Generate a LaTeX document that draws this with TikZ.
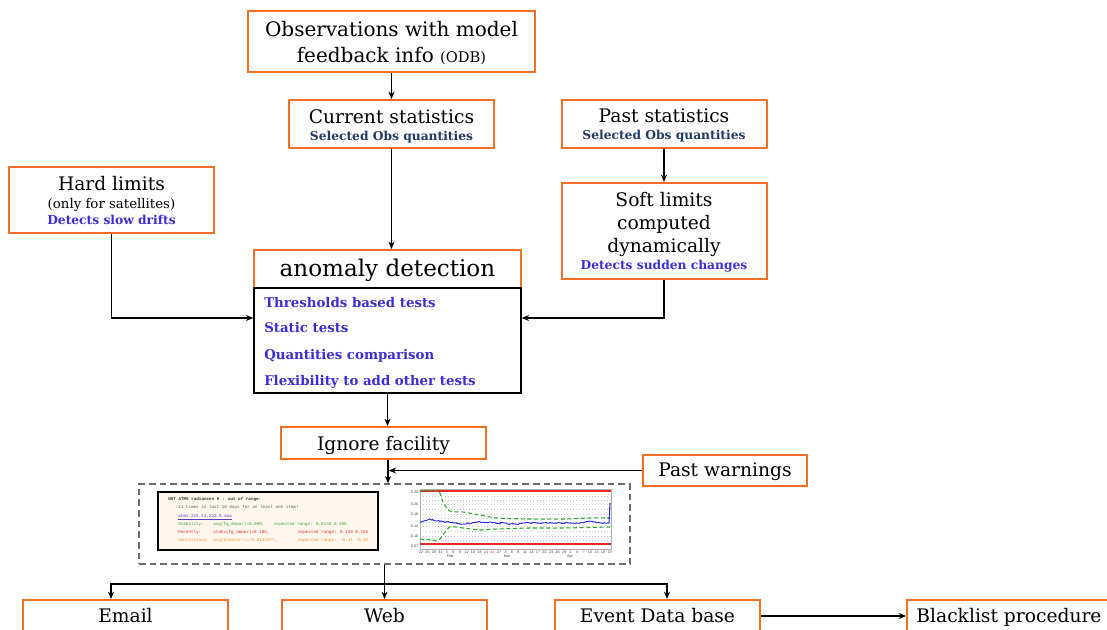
\documentclass[tikz,border=0pt]{standalone}
\usepackage{fontspec}
\setmainfont{DejaVu Serif}
\newfontfamily\monof{Liberation Mono}
\newfontfamily\sansf{Liberation Sans}
\usetikzlibrary{arrows.meta,decorations.pathmorphing}
\definecolor{obord}{RGB}{242,112,32}
\definecolor{vblue}{RGB}{60,45,215}
\definecolor{navy}{RGB}{35,58,105}
\definecolor{dgray}{RGB}{110,110,110}
\definecolor{peach}{RGB}{255,246,238}
\definecolor{gline}{RGB}{40,170,40}
\definecolor{rline}{RGB}{235,40,40}
\definecolor{bline}{RGB}{40,40,230}
\definecolor{oline}{RGB}{245,150,40}
\definecolor{lnk}{RGB}{90,60,200}
\tikzset{
  arr/.style={line width=1.1pt,-{Stealth[length=5.5pt,width=4.5pt]}},
  obox/.style={draw=obord,line width=1.5pt,fill=white,inner sep=0pt,minimum width=153.75pt},
  bbox/.style={draw=black,line width=1.1pt,inner sep=0pt},
  t/.style={inner sep=0pt,anchor=base},
  bigt/.style={font=\fontsize{14}{16}\selectfont},
  subt/.style={font=\fontsize{9.2}{10}\selectfont\bfseries,text=navy},
  bluet/.style={font=\fontsize{9.2}{10}\selectfont\bfseries,text=vblue},
  itemt/.style={inner sep=0pt,anchor=base west,font=\fontsize{10}{11}\selectfont\bfseries,text=vblue},
  tiny/.style={inner sep=0pt,anchor=base west,font=\monof\fontsize{3.2}{3.6}\selectfont},
  tick/.style={inner sep=0pt,font=\sansf\fontsize{2.8}{3}\selectfont,text=black!75},
}
\begin{document}
\begin{tikzpicture}[x=0.75pt,y=-0.75pt]
\useasboundingbox (0,0) rectangle (1107,629);
\clip (0,0) rectangle (1107,629);

% ---------- top boxes ----------
\node[obox,minimum width=215.25pt,minimum height=45.75pt] (obs) at (391.5,41.5) {};
\node[t,font=\fontsize{15}{18}\selectfont] (obs1) at (391.5,36.7) {Observations with model};
\node[t,font=\fontsize{15}{18}\selectfont] (obs2) at (391.5,62.7) {feedback info {\fontsize{11}{13}\selectfont(ODB)}};

\node[obox,minimum height=36pt] (cur) at (391.5,124) {};
\node[t,bigt] (cur1) at (391.5,123.3) {Current statistics};
\node[t,subt] (cur2) at (391.5,140) {Selected Obs quantities};

\node[obox,minimum height=36pt] (past) at (664,124) {};
\node[t,bigt] (past1) at (664,122.3) {Past statistics};
\node[t,subt] (past2) at (664,139.3) {Selected Obs quantities};

\node[obox,minimum height=49.5pt] (hard) at (111.5,200) {};
\node[t,bigt] (hard1) at (111.5,190) {Hard limits};
\node[t,font=\fontsize{10}{11}\selectfont] (hard2) at (111.5,208.3) {(only for satellites)};
\node[t,bluet] (hard3) at (111.5,224) {Detects slow drifts};

\node[obox,minimum height=72pt] (soft) at (664,231) {};
\node[t,bigt] (soft1) at (664,206) {Soft limits};
\node[t,bigt] (soft2) at (664,229.3) {computed};
\node[t,bigt] (soft3) at (664,252.7) {dynamically};
\node[t,bluet] (soft4) at (664,269.3) {Detects sudden changes};

% ---------- anomaly detection ----------
\node[obox,minimum width=200.25pt,minimum height=28.5pt] (head) at (387.5,269) {};
\node[t,font=\fontsize{17.3}{20}\selectfont] (headt) at (387.5,276.7) {anomaly detection};
\node[bbox,minimum width=200.25pt,minimum height=78.75pt] (tests) at (387.5,340.5) {};
\node[itemt] (it1) at (264,307.7) {Thresholds based tests};
\node[itemt] (it2) at (264,332.7) {Static tests};
\node[itemt] (it3) at (264,359) {Quantities comparison};
\node[itemt] (it4) at (264,385) {Flexibility to add other tests};

% ---------- ignore / past warnings ----------
\node[obox,minimum height=24pt] (ign) at (383.5,443) {};
\node[t,bigt] (ignt) at (383.5,450) {Ignore facility};
\node[obox,minimum width=123pt,minimum height=23.25pt] (pw) at (725,470.5) {};
\node[t,bigt] (pwt) at (725,476.7) {Past warnings};

% ---------- dashed box with screenshots ----------
\node[draw=dgray,dash pattern=on 5pt off 3pt,line width=1pt,inner sep=0pt,
      minimum width=368.25pt,minimum height=60pt] (dash) at (384.5,524) {};
\node[draw=black,line width=0.8pt,fill=peach,inner sep=0pt,minimum width=165pt,minimum height=43.5pt] (panel) at (268,521) {};
\node[tiny,text=black!80,font=\monof\bfseries\fontsize{3.2}{3.6}\selectfont] at (168,500) {NOT ATMS radiances 9 : out of range:};
\node[tiny,text=black!65] at (178,508) {11 times in last 10 days for at least one item!};
\node[tiny,text=lnk] (lk) at (178,517) {\underline{atms.224.13.222.9.eoa}};
\node[tiny,text=gline] at (178,525) {Stability:};
\node[tiny,text=gline] at (213,525) {avg(fg\_depar)=0.099,};
\node[tiny,text=gline] at (274,525) {expected range: 0.0132 0.088};
\node[tiny,text=rline] at (178,533) {Recently:};
\node[tiny,text=rline] at (213,533) {stdev(fg\_depar)=0.185,};
\node[tiny,text=rline] at (298,533) {expected range: 0.129 0.155};
\node[tiny,text=oline] at (178,541) {Consistency:};
\node[tiny,text=oline] at (213,541) {avg(biascorr)=-0.0123077,};
\node[tiny,text=oline] at (298,541) {expected range: -0.41 -0.35};

% chart
\node[draw=black!30,line width=0.6pt,inner sep=0pt,minimum width=143.25pt,minimum height=45pt] (chart) at (515.5,519) {};
\foreach \yy in {496,500,504,509,514,518,522,526,531,536,540} {
  \draw[black!22,line width=0.3pt,dotted] (420,\yy) -- (611,\yy);
}
\draw[rline,line width=1pt] (420,491) -- (611,491);
\draw[rline,line width=1pt] (420,544) -- (611,544);
\draw[gline,line width=0.8pt,densely dashed] plot[smooth,tension=0.5] coordinates {(420,491) (438,491) (443,502) (450,511) (463,512) (480,515) (497,518) (530,519) (563,519) (590,518) (610,518)};
\draw[gline,line width=0.8pt,densely dashed] plot[smooth,tension=0.5] coordinates {(420,539) (433,540) (438,541) (443,535) (450,527) (463,528) (480,530) (497,529) (530,528) (563,528) (610,527)};
\draw[bline,line width=0.7pt,decorate,decoration={random steps,segment length=1pt,amplitude=0.5pt}]
  (420,522) -- (423,521) -- (430,519) -- (437,521) -- (447,522) -- (463,524) -- (480,522) -- (497,523) -- (513,524) -- (530,523) -- (547,523) -- (563,523) -- (580,523) -- (590,521) -- (600,523) -- (609,523);
\draw[bline,line width=0.8pt] (609,523) -- (610,503);
\foreach \lab/\yy in {0.22/492,0.20/504,0.16/514,0.14/526,0.10/536,0.07/546} {
  \node[tick,anchor=east] at (418.5,\yy) {\lab};
}
\foreach \lab [count=\i] in {22,25,28,31,3,6,9,12,15,18,21,24,27,2,5,8,11,14,17,20,23,26,29,1,4,7,10,13,16,19} {
  \pgfmathsetmacro{\xx}{421+(\i-1)*6.5}
  \ifnum\i=5 \node[tick,text=rline] at (\xx,552) {\lab};
  \else\ifnum\i=12 \node[tick,text=rline] at (\xx,552) {\lab};
  \else\ifnum\i=19 \node[tick,text=rline] at (\xx,552) {\lab};
  \else\ifnum\i=26 \node[tick,text=rline] at (\xx,552) {\lab};
  \else \node[tick] at (\xx,552) {\lab};
  \fi\fi\fi\fi
}
\node[tick] at (450,556.5) {Feb};
\node[tick] at (507,556.5) {Mar};
\node[tick] at (570,556.5) {Apr};

% ---------- bottom boxes ----------
\node[obox,minimum height=24pt] (email) at (125.5,616) {};
\node[t,bigt] (emailt) at (125.5,622.7) {Email};
\node[obox,minimum height=24pt] (web) at (384.5,616) {};
\node[t,bigt] (webt) at (384.5,622.7) {Web};
\node[obox,minimum height=24pt] (event) at (657.5,616) {};
\node[t,bigt] (eventt) at (657.5,622.7) {Event Data base};
\node[obox,minimum height=24pt] (black) at (1009.5,616) {};
\node[t,bigt] (blackt) at (1009,622.7) {Blacklist procedure};

% ---------- connectors ----------
\draw[arr] (obs.south) -- (cur.north);
\draw[arr] (cur.south) -- (cur.south |- head.north);
\draw[arr] (past.south) -- (soft.north);
\draw[arr] (hard.south) |- ([yshift=16.875pt]tests.west);
\draw[arr] (soft.south) |- ([yshift=16.875pt]tests.east);
\draw[arr] (tests.south) -- (tests.south |- ign.north);
\draw[arr] ([xshift=3.4pt]ign.south) -- ([xshift=3.4pt]ign.south |- dash.north);
\draw[arr] (pw.west) -- ([xshift=4pt]ign.south |- pw.west);
\coordinate (split) at (384.5,584);
\draw[arr] (dash.south) -- (web.north);
\draw[arr] (split) -| ([xshift=-10.875pt]email.north);
\draw[arr] (split) -| ([xshift=7.125pt]event.north);
\draw[arr] (event.east) -- (black.west);
\end{tikzpicture}
\end{document}
